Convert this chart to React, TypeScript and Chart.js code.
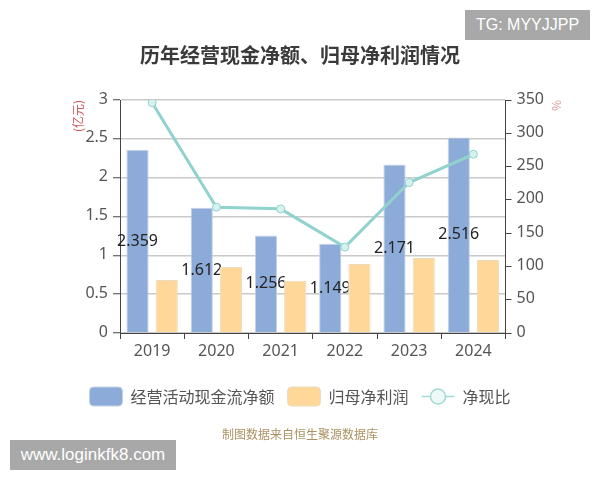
import { useEffect, useRef } from 'react';
import { Chart, registerables } from 'chart.js';

Chart.register(...registerables);

const years = ['2019', '2020', '2021', '2022', '2023', '2024'];
const cashFlow = [2.359, 1.612, 1.256, 1.149, 2.171, 2.516];
const netProfit = [0.682, 0.85, 0.673, 0.888, 0.965, 0.94];
const cashRatio = [346, 189, 186.5, 129, 226, 268.5];

const FONT = '"Noto Sans CJK SC", "Noto Sans", sans-serif';
const NUM_FONT = '"Noto Sans", sans-serif';

// labels sit mid-bar; the orange bars cover them, so clip those rects out
const barLabels = {
  id: 'barLabels',
  afterDatasetDraw(chart: any, args: any) {
    if (args.index !== 0) return;
    const { ctx, width, height } = chart;
    ctx.save();
    ctx.beginPath();
    ctx.rect(0, 0, width, height);
    chart.getDatasetMeta(1).data.forEach((bar: any) => {
      ctx.rect(bar.x - bar.width / 2, bar.y, bar.width, bar.base - bar.y);
    });
    ctx.clip('evenodd');
    ctx.font = `16px ${NUM_FONT}`;
    ctx.fillStyle = '#222';
    ctx.textAlign = 'center';
    ctx.textBaseline = 'middle';
    args.meta.data.forEach((bar: any, i: number) => {
      ctx.fillText(cashFlow[i].toFixed(3), bar.x, (bar.y + bar.base) / 2);
    });
    ctx.restore();
  },
};

// legend symbol for the line series: a stroke with a hollow circle
const lineSwatch = {
  id: 'lineSwatch',
  afterDraw(chart: any) {
    const hit = chart.legend?.legendHitBoxes?.[2];
    if (!hit) return;
    const { ctx } = chart;
    const cy = hit.top + hit.height / 2;
    const cx = hit.left + 16.5;
    ctx.save();
    ctx.strokeStyle = '#a3dad6';
    ctx.lineWidth = 1.5;
    ctx.beginPath();
    ctx.moveTo(hit.left, cy);
    ctx.lineTo(hit.left + 33, cy);
    ctx.stroke();
    ctx.beginPath();
    ctx.arc(cx, cy, 7.5, 0, Math.PI * 2);
    ctx.fillStyle = '#eefaf8';
    ctx.fill();
    ctx.stroke();
    ctx.restore();
  },
};

export default function App() {
  const canvasRef = useRef<HTMLCanvasElement>(null);

  useEffect(() => {
    if (!canvasRef.current) return;

    const chart = new Chart(canvasRef.current, {
      type: 'bar',
      data: {
        labels: years,
        datasets: [
          {
            label: '经营活动现金流净额',
            data: cashFlow,
            backgroundColor: '#8cabd9',
            borderColor: '#c5d2e6',
            borderWidth: 1,
            yAxisID: 'y',
            order: 2,
            categoryPercentage: 0.91,
            barPercentage: 0.76,
          },
          {
            label: '归母净利润',
            data: netProfit,
            backgroundColor: '#ffd798',
            borderColor: '#eadcc0',
            borderWidth: 1,
            yAxisID: 'y',
            order: 3,
            categoryPercentage: 0.91,
            barPercentage: 0.76,
          },
          {
            type: 'line',
            label: '净现比',
            data: cashRatio,
            borderColor: '#90d2ce',
            borderWidth: 3,
            backgroundColor: '#d6f2ee',
            pointBackgroundColor: '#d6f2ee',
            pointBorderColor: '#90d2ce',
            pointBorderWidth: 1,
            pointRadius: 4,
            tension: 0,
            yAxisID: 'y1',
            order: 1,
          },
        ],
      } as any,
      options: {
        responsive: false,
        animation: false,
        layout: { padding: { bottom: 64 } },
        plugins: {
          title: {
            display: true,
            text: '历年经营现金净额、归母净利润情况',
            color: '#3a3a3a',
            font: { family: FONT, size: 20, weight: 'bold' },
            padding: { top: 43, bottom: 33 },
          },
          legend: {
            display: true,
            position: 'bottom',
            labels: {
              boxWidth: 33,
              boxHeight: 19,
              padding: 13,
              color: '#555',
              font: { family: FONT, size: 16 },
              useBorderRadius: true,
              borderRadius: 4,
              sort: (a: any, b: any) => a.datasetIndex - b.datasetIndex,
              generateLabels(c: any) {
                const items = Chart.defaults.plugins.legend.labels.generateLabels(c);
                const lineItem = items.find((it: any) => it.datasetIndex === 2);
                lineItem.fillStyle = 'rgba(0,0,0,0)';
                lineItem.strokeStyle = 'rgba(0,0,0,0)';
                return items;
              },
            },
          },
          tooltip: { enabled: false },
        },
        scales: {
          x: {
            afterFit(scale: any) {
              scale.height = 41;
            },
            grid: { drawOnChartArea: false, tickColor: '#444', tickLength: 6 },
            border: { color: '#444' },
            ticks: {
              color: '#555',
              font: { family: NUM_FONT, size: 16 },
              padding: 3,
              maxRotation: 0,
            },
          },
          y: {
            position: 'left',
            min: 0,
            max: 3,
            afterFit(scale: any) {
              scale.width = 120;
            },
            grid: { color: '#c9c9c9', lineWidth: 1.5, tickColor: '#444', tickWidth: 1, tickLength: 7 },
            border: { color: '#444' },
            ticks: {
              stepSize: 0.5,
              color: '#555',
              font: { family: NUM_FONT, size: 16 },
              padding: 5,
              labelOffset: -1,
              callback: (value: any) => String(value),
            },
            title: {
              display: true,
              text: '(亿元)',
              align: 'end',
              color: '#d0575a',
              font: { family: FONT, size: 12 },
              padding: { top: 71, bottom: 0 },
            },
          },
          y1: {
            position: 'right',
            min: 0,
            max: 350,
            afterFit(scale: any) {
              scale.width = 94.5;
            },
            grid: { drawOnChartArea: false, tickColor: '#444', tickLength: 6 },
            border: { color: '#444' },
            ticks: {
              stepSize: 50,
              color: '#555',
              font: { family: NUM_FONT, size: 16 },
              padding: 5,
              labelOffset: -1,
            },
            title: {
              display: true,
              text: '%',
              align: 'end',
              color: '#dd9a9c',
              font: { family: FONT, size: 12 },
              padding: { top: 36, bottom: 0 },
            },
          },
        },
      } as any,
      plugins: [barLabels, lineSwatch],
    });

    return () => {
      chart.destroy();
    };
  }, []);

  const tag = {
    position: 'absolute' as const,
    background: '#a8a8a8',
    color: '#fff',
    fontFamily: '"Liberation Sans", sans-serif',
    height: 30,
    lineHeight: '30px',
    textAlign: 'center' as const,
  };

  return (
    <div style={{ position: 'fixed', left: 0, top: 0, width: 600, height: 480, background: '#fff' }}>
      <canvas ref={canvasRef} width={600} height={480} style={{ display: 'block' }}></canvas>
      <div
        style={{
          position: 'absolute',
          left: 0,
          width: 600,
          top: 425,
          textAlign: 'center',
          fontFamily: FONT,
          fontSize: 12,
          color: '#ab9263',
        }}
      >
        制图数据来自恒生聚源数据库
      </div>
      <div style={{ ...tag, fontSize: 16, left: 465, top: 10, width: 125 }}>TG: MYYJJPP</div>
      <div style={{ ...tag, fontSize: 17, left: 10, top: 440, width: 166 }}>www.loginkfk8.com</div>
    </div>
  );
}
